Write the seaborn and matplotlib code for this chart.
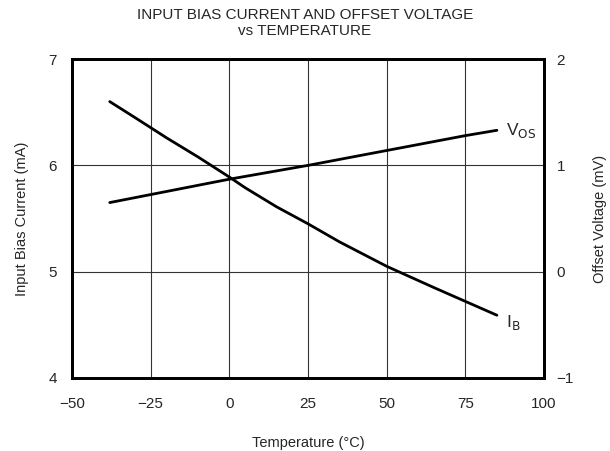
import matplotlib
matplotlib.use("Agg")
import matplotlib.pyplot as plt
import seaborn as sns
import pandas as pd

# Data
temp_ib = [-38, -30, -20, -10, 0, 5, 10, 15, 20, 25, 35, 50, 65, 75, 85]
ib_ma = [6.60, 6.45, 6.26, 6.08, 5.89, 5.79, 5.70, 5.61, 5.53, 5.45, 5.28, 5.05, 4.85, 4.72, 4.59]
temp_vos = [-38, 0, 25, 50, 75, 85]
vos_mv = [0.65, 0.87, 1.00, 1.14, 1.28, 1.33]
x_ticks = [-50, -25, 0, 25, 50, 75, 100]
ib_ticks = [4, 5, 6, 7]
vos_ticks = [-1, 0, 1, 2]

sns.set_style("white")
plt.rcParams["font.family"] = ["Liberation Sans", "DejaVu Sans"]

df_ib = pd.DataFrame({"temp": temp_ib, "ib": ib_ma})
df_vos = pd.DataFrame({"temp": temp_vos, "vos": vos_mv})

fig, ax = plt.subplots(figsize=(6.1, 4.51), dpi=100)
fig.subplots_adjust(left=0.118, right=0.892, top=0.869, bottom=0.162)

sns.lineplot(data=df_ib, x="temp", y="ib", ax=ax, color="black", linewidth=2)
ax.set_xlim(-50, 100)
ax.set_ylim(4, 7)
ax.set_xticks(x_ticks)
ax.set_xticklabels([str(t).replace("-", "\u2212") for t in x_ticks])
ax.set_yticks(ib_ticks)
ax.grid(True, color="#333333", linewidth=0.8)
ax.set_xlabel("Temperature (\u00b0C)", fontsize=10.5, labelpad=18)
ax.set_ylabel("Input Bias Current (mA)", fontsize=10.5, labelpad=14)

ax2 = ax.twinx()
sns.lineplot(data=df_vos, x="temp", y="vos", ax=ax2, color="black", linewidth=2)
ax2.set_ylim(-1, 2)
ax2.set_yticks(vos_ticks)
ax2.set_yticklabels([str(t).replace("-", "\u2212") for t in vos_ticks])
ax2.set_ylabel("Offset Voltage (mV)", fontsize=10.5, labelpad=14)
ax2.grid(False)

for a in (ax, ax2):
    a.tick_params(length=0, labelsize=11)
    for s in a.spines.values():
        s.set_linewidth(2)
        s.set_color("black")
ax.tick_params(axis="x", pad=14)
ax.tick_params(axis="y", pad=11)
ax2.tick_params(axis="y", pad=9)

ax2.text(88, 1.33, "V$_{\\mathrm{OS}}$", fontsize=12.5, va="center", ha="left")
ax.text(88, 4.52, "I$_{\\mathrm{B}}$", fontsize=12.5, va="center", ha="left")

fig.suptitle("INPUT BIAS CURRENT AND OFFSET VOLTAGE\nvs TEMPERATURE", fontsize=11, y=0.982)

plt.savefig("out.png", dpi=100)
plt.close()
